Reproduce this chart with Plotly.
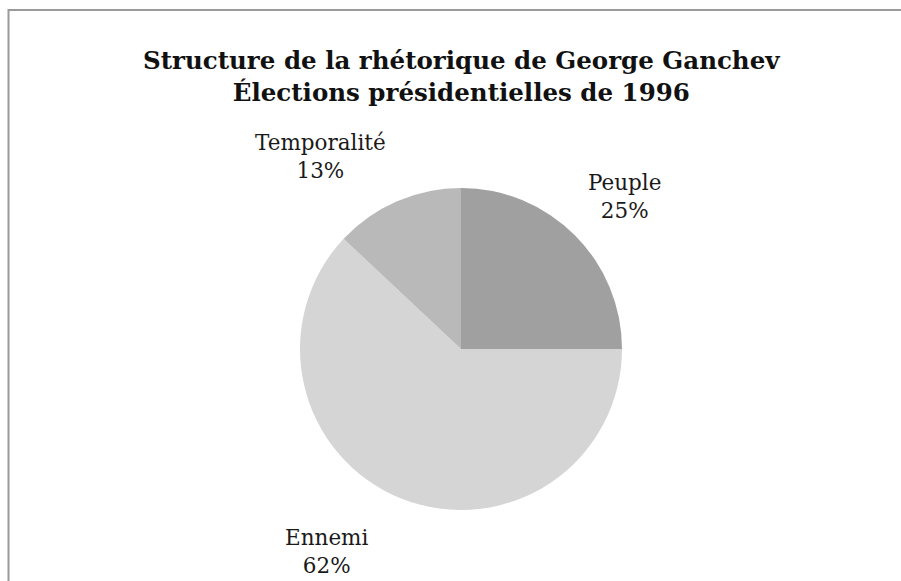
import plotly.graph_objects as go

# Rhetoric structure shares (percent)
labels = ["Peuple", "Ennemi", "Temporalité"]
values = [25, 62, 13]
colors = ["#a0a0a0", "#d5d5d5", "#b9b9b9"]

W, H = 901, 581

def px(x):
    return x / W

def py(y):
    return 1 - y / H

fig = go.Figure(
    go.Pie(
        labels=labels,
        values=values,
        sort=False,
        direction="clockwise",
        rotation=0,
        marker=dict(colors=colors, line=dict(width=0)),
        textinfo="none",
        hoverinfo="label+percent",
        showlegend=False,
        domain=dict(x=[px(300), px(622)], y=[py(510), py(188)]),
    )
)

# Outside labels: category name and share
label_pos = {"Peuple": (624, 196), "Ennemi": (326, 551), "Temporalité": (320, 156)}
total = sum(values)
for lab, val in zip(labels, values):
    x, y = label_pos[lab]
    fig.add_annotation(
        x=px(x), y=py(y), xref="paper", yref="paper",
        xanchor="center", yanchor="middle",
        text=f"{lab}<br>{round(100 * val / total)}%",
        showarrow=False, align="center",
        font=dict(family="DejaVu Serif", size=21.5, color="#1a1a1a"),
    )

# Chart frame
fig.add_shape(
    type="rect", xref="paper", yref="paper",
    x0=px(8.5), y0=py(10), x1=1.2, y1=-0.2,
    line=dict(color="#9a9a9a", width=2), fillcolor="rgba(0,0,0,0)",
)

fig.update_layout(
    width=W, height=H,
    margin=dict(l=0, r=0, t=0, b=0),
    paper_bgcolor="white",
    plot_bgcolor="white",
    title=dict(
        text="<b>Structure de la rhétorique de George Ganchev<br>Élections présidentielles de 1996</b>",
        x=0.512, xanchor="center", y=py(69), yanchor="middle",
        font=dict(family="DejaVu Serif", size=24.5, color="#111111"),
    ),
)

fig.write_html("out.html")
